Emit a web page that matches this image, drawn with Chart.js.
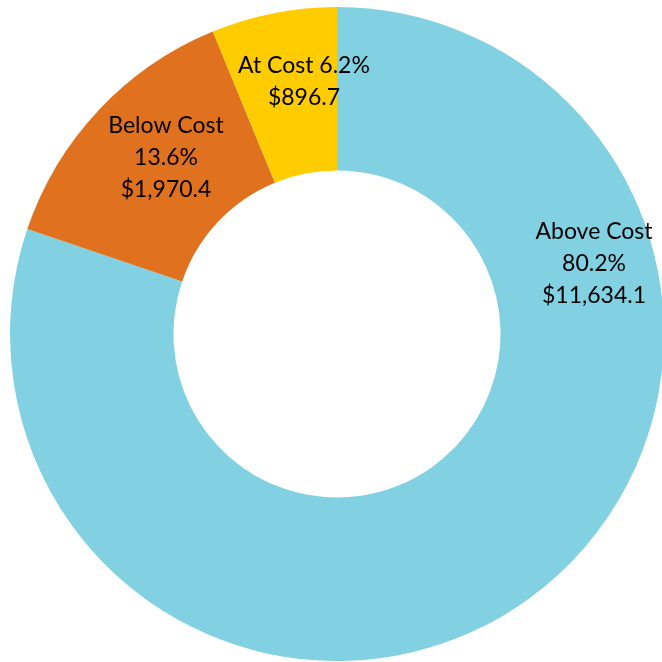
<!DOCTYPE html>
<html>
<head>
<meta charset="utf-8">
<script src="https://cdn.jsdelivr.net/npm/chart.js@4"></script>
<style>
  html, body { margin: 0; padding: 0; background: #fff; overflow: hidden; }
  #wrap { position: absolute; left: 10px; top: 7px; width: 654px; height: 654px; }
</style>
</head>
<body>
<div id="wrap"><canvas id="chart"></canvas></div>
<script>
const categories = ['Above Cost', 'Below Cost', 'At Cost'];
const percents   = [80.2, 13.6, 6.2];
const amounts    = ['$11,634.1', '$1,970.4', '$896.7'];
const colors     = ['#82D1E2', '#E0711E', '#FFCC00'];

// label lines per slice (Excel-style best-fit text)
const labelLines = [
  [categories[0], percents[0] + '%', amounts[0]],
  [categories[1], percents[1] + '%', amounts[1]],
  [categories[2] + ' ' + percents[2] + '%', amounts[2]],
];
// label centre, as a fraction of the outer radius from the chart centre
const labelOffsets = [[0.786, -0.214], [-0.523, -0.538], [-0.101, -0.771]];

const sliceLabels = {
  id: 'sliceLabels',
  afterDatasetsDraw(chart) {
    const { ctx } = chart;
    const meta = chart.getDatasetMeta(0);
    ctx.save();
    ctx.font = '23px Lato, "Open Sans", sans-serif';
    ctx.fillStyle = '#000';
    ctx.textAlign = 'center';
    ctx.textBaseline = 'middle';
    meta.data.forEach((arc, i) => {
      const r = arc.outerRadius;
      const cx = arc.x + labelOffsets[i][0] * r;
      const cy = arc.y + labelOffsets[i][1] * r;
      const lines = labelLines[i];
      const lh = 32;
      lines.forEach((t, j) => {
        ctx.fillText(t, cx, cy + (j - (lines.length - 1) / 2) * lh);
      });
    });
    ctx.restore();
  }
};

new Chart(document.getElementById('chart'), {
  type: 'doughnut',
  data: {
    labels: categories,
    datasets: [{
      data: percents,
      backgroundColor: colors,
      borderWidth: 0,
    }],
  },
  options: {
    responsive: true,
    maintainAspectRatio: false,
    animation: false,
    cutout: '50%',
    layout: { padding: 0 },
    plugins: {
      legend: { display: false },
      tooltip: { enabled: false },
    },
  },
  plugins: [sliceLabels],
});
</script>
</body>
</html>
